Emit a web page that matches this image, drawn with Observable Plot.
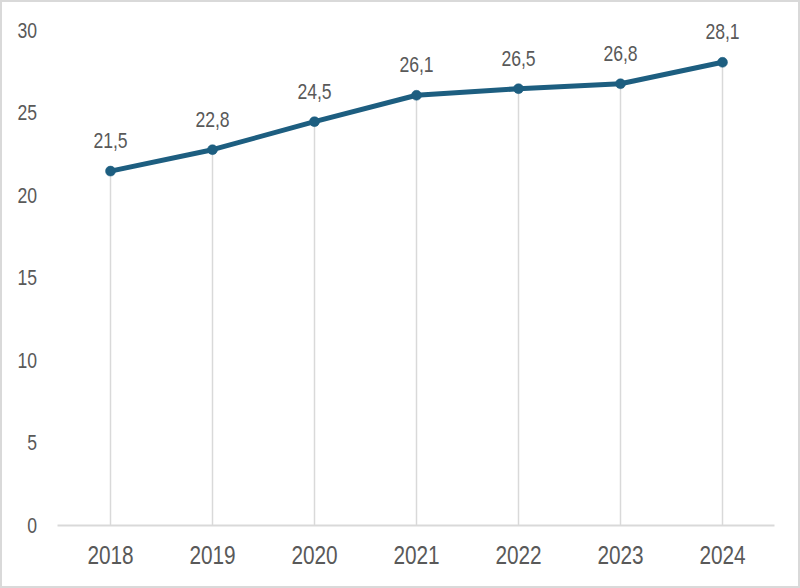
<!DOCTYPE html>
<html>
<head>
<meta charset="utf-8">
<script src="https://cdn.jsdelivr.net/npm/d3@7"></script>
<script src="https://cdn.jsdelivr.net/npm/@observablehq/plot@0.6"></script>
<style>
  html, body { margin: 0; padding: 0; background: #fff; }
  #wrap { position: relative; width: 800px; height: 588px; overflow: hidden; }
  #frame { position: absolute; left: 0; top: 0; width: 800px; height: 588px; box-sizing: border-box;
           border: 2.5px solid #d9d9d9; pointer-events: none; }
</style>
</head>
<body>
<div id="wrap"><div id="frame"></div></div>
<script>
const years = ["2018", "2019", "2020", "2021", "2022", "2023", "2024"];
const values = [21.5, 22.8, 24.5, 26.1, 26.5, 26.8, 28.1];
const yTicks = [0, 5, 10, 15, 20, 25, 30];

const data = years.map((year, i) => ({ year, value: values[i], label: String(values[i]).replace(".", ",") }));

const lineColor = "#1d5e80";
const gridColor = "#d9d9d9";
const textColor = "#595959";

const chart = Plot.plot({
  width: 800,
  height: 588,
  marginLeft: 57.5,
  marginRight: 25.5,
  marginTop: 30.5,
  marginBottom: 63,
  style: {
    fontFamily: "'Liberation Sans', Arial, sans-serif",
    color: textColor,
    background: "transparent"
  },
  x: { type: "point", domain: years, padding: 0.5, label: null },
  y: { domain: [0, 30], label: null },
  marks: [
    Plot.ruleX(data, { x: "year", y1: 0, y2: "value", stroke: gridColor, strokeWidth: 1.5 }),
    Plot.ruleY([0], { stroke: gridColor, strokeWidth: 2 }),
    Plot.axisY({ ticks: yTicks, tickSize: 0, tickPadding: 21, fontSize: 22, label: null }),
    Plot.axisX({ tickSize: 0, tickPadding: 20, fontSize: 26, label: null }),
    Plot.line(data, { x: "year", y: "value", stroke: lineColor, strokeWidth: 5 }),
    Plot.dot(data, { x: "year", y: "value", r: 5, fill: lineColor, stroke: lineColor, strokeWidth: 0.5 }),
    Plot.text(data, { x: "year", y: "value", text: "label", dy: -30, fontSize: 22, fill: textColor })
  ]
});

// Condense glyphs horizontally (narrow face) around each text's anchor point
const squeeze = 0.8;
chart.querySelectorAll("text").forEach(t => {
  const x = +t.getAttribute("x") || 0;
  const tr = t.getAttribute("transform") || "";
  t.setAttribute("transform", `${tr} translate(${x},0) scale(${squeeze},1) translate(${-x},0)`);
});

document.getElementById("wrap").insertBefore(chart, document.getElementById("frame"));
</script>
</body>
</html>
